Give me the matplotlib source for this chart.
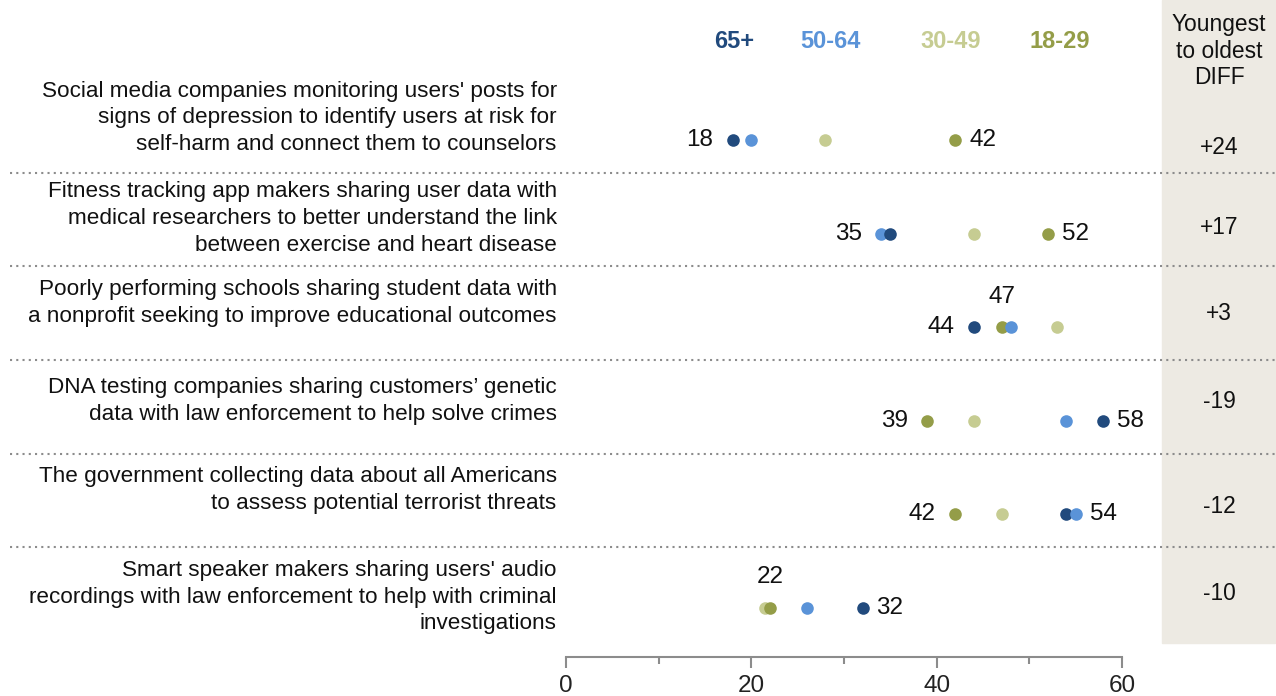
import numpy as np
import matplotlib
matplotlib.use("Agg")
import matplotlib.pyplot as plt
import matplotlib.transforms as mtransforms
from matplotlib.patches import Rectangle

plt.rcParams['font.family'] = ['Liberation Sans', 'DejaVu Sans']

# data
items = [
    "Social media companies monitoring users' posts for\nsigns of depression to identify users at risk for\nself-harm and connect them to counselors",
    "Fitness tracking app makers sharing user data with\nmedical researchers to better understand the link\nbetween exercise and heart disease",
    "Poorly performing schools sharing student data with\na nonprofit seeking to improve educational outcomes",
    "DNA testing companies sharing customers\u2019 genetic\ndata with law enforcement to help solve crimes",
    "The government collecting data about all Americans\nto assess potential terrorist threats",
    "Smart speaker makers sharing users' audio\nrecordings with law enforcement to help with criminal\ninvestigations",
]
groups = ["65+", "50-64", "30-49", "18-29"]
age_65 = [18, 35, 44, 58, 54, 32]
age_50 = [20, 34, 48, 54, 55, 26]
age_30 = [28, 44, 53, 44, 47, 21.5]
age_18 = [42, 52, 47, 39, 42, 22]
# where the value labels for 65+ and 18-29 sit
pos_65 = ["left", "left", "left", "right", "right", "right"]
pos_18 = ["right", "right", "above", "left", "left", "above"]
# vertical nudges (px) of row labels and DIFF numbers relative to the dots
label_dy = [-22, -15, -24, -20, -24, -11]
diff_dy = [7, -6, -14, -19, -8, -14]

colors = {"65+": "#214a7d", "50-64": "#5a93d8", "30-49": "#c6cc92", "18-29": "#949d48"}
series = {"65+": age_65, "50-64": age_50, "30-49": age_30, "18-29": age_18}

W, H = 1276, 696
fig = plt.figure(figsize=(W / 100, H / 100), dpi=100)

# shaded DIFF column
fig.patches.append(Rectangle((1162 / W, 1 - 643 / H), (1275 - 1162) / W, 643 / H,
                             transform=fig.transFigure, color="#edeae3", zorder=-1))

ax = fig.add_axes([566 / W, 1 - 657 / H, 556 / W, 657 / H])
ax.set_xlim(0, 60)
row_px = 93.6
ax.set_ylim((657 - 140) / row_px, -140 / row_px)
ax.patch.set_alpha(0)

for s in ["top", "right", "left"]:
    ax.spines[s].set_visible(False)
ax.spines["bottom"].set_color("#8c8c8c")
ax.spines["bottom"].set_linewidth(1.5)
ax.set_yticks([])
ax.set_xticks([0, 20, 40, 60])
ax.set_xticks([10, 30, 50], minor=True)
ax.tick_params(axis="x", which="major", length=8, width=1.5, color="#8c8c8c",
               labelsize=17.5, pad=5, labelcolor="#222222")
ax.tick_params(axis="x", which="minor", length=5, width=1.5, color="#8c8c8c")

n = len(items)
rows = np.arange(n)

# dots: the right-most dot in each row sits on top
for r in rows:
    for g in groups:
        v = series[g][r]
        ax.scatter(v, r, s=82, color=colors[g], zorder=3 + v / 100, linewidths=0)

# value labels
for r in rows:
    row_vals = [series[g][r] for g in groups]
    for v, p in [(age_65[r], pos_65[r]), (age_18[r], pos_18[r])]:
        txt = f"{v:g}"
        if p == "left":
            ax.annotate(txt, (min(row_vals), r), xytext=(-14, 0), textcoords="offset points",
                        ha="right", va="center", fontsize=17.5, color="#111111")
        elif p == "right":
            ax.annotate(txt, (max(row_vals), r), xytext=(10, 0), textcoords="offset points",
                        ha="left", va="center", fontsize=17.5, color="#111111")
        else:
            ax.annotate(txt, (v, r), xytext=(0, 22), textcoords="offset points",
                        ha="center", va="center", fontsize=17.5, color="#111111")

# row labels
for r, lab in enumerate(items):
    ax.text(-1, r + label_dy[r] / row_px, lab, ha="right", va="center", fontsize=16.2,
            linespacing=1.37, color="#111111", clip_on=False)

# dotted separators across the figure
blend = mtransforms.blended_transform_factory(fig.transFigure, ax.transData)
for r in rows[:-1]:
    ax.plot([10 / W, 1.0], [r + 0.35, r + 0.35], transform=blend, color="#8c8c8c",
            linestyle=(0, (1, 2)), linewidth=1.5, clip_on=False)

# DIFF column
diff_x = 1219 / W
fig.text(diff_x, 1 - 51 / H, "Youngest\nto oldest\nDIFF", ha="center", va="center",
         fontsize=16.4, linespacing=1.2, color="#111111")
for r in rows:
    d = age_18[r] - age_65[r]
    ax.text(diff_x, r + diff_dy[r] / row_px, f"{d:+d}", transform=blend, ha="center",
            va="center", fontsize=16.4, color="#111111")

# group headers
head_x = [18.2, 28.5, 41.5, 53.3]
for g, hx in zip(groups, head_x):
    ax.text(hx, (41 - 140) / row_px, g, ha="center", va="center", fontsize=17,
            fontweight="bold", color=colors[g], clip_on=False)

fig.savefig("out.png", dpi=100)
